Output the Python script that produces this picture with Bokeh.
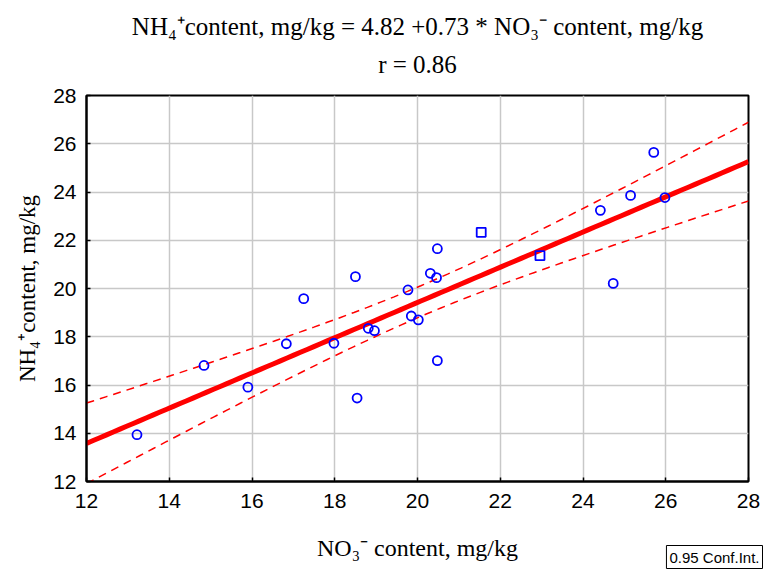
import numpy as np
from bokeh.plotting import figure
from bokeh.models import Title, FixedTicker, ColumnDataSource
from bokeh.embed import file_html
from bokeh.resources import INLINE

# data
no3 = [13.22, 14.84, 15.90, 16.83, 17.25, 17.98, 18.50, 18.54, 18.81, 18.96,
       19.77, 19.85, 20.02, 20.31, 20.46, 20.48, 20.48, 21.54, 22.96, 24.42,
       24.73, 25.15, 25.71, 25.98]
nh4 = [13.94, 16.81, 15.91, 17.71, 19.58, 17.73, 20.49, 15.46, 18.35, 18.25,
       19.94, 18.86, 18.70, 20.63, 20.45, 21.65, 17.01, 22.33, 21.36, 23.24,
       20.21, 23.86, 25.64, 23.77]
markers = ["circle"] * 17 + ["square", "square"] + ["circle"] * 5
intercept = 4.82
slope = 0.73
x_ticks = [12, 14, 16, 18, 20, 22, 24, 26, 28]
y_ticks = [12, 14, 16, 18, 20, 22, 24, 26, 28]

x = np.array(no3)
y = np.array(nh4)
n = len(x)
resid = y - (intercept + slope * x)
s = np.sqrt(np.sum(resid ** 2) / (n - 2))
xbar = x.mean()
sxx = np.sum((x - xbar) ** 2)
t = 2.074
xs = np.linspace(12, 28, 100)
ys = intercept + slope * xs
hw = t * s * np.sqrt(1.0 / n + (xs - xbar) ** 2 / sxx)

p = figure(width=768, height=570, x_range=(12, 28), y_range=(12, 28),
           output_backend="svg", toolbar_location=None,
           min_border_left=86, min_border_right=20, min_border_top=95, min_border_bottom=89)
p.background_fill_color = "white"
p.border_fill_color = "white"
p.outline_line_color = "black"
p.outline_line_width = 2

for ax in (p.xaxis, p.yaxis):
    ax.axis_line_color = "black"
    ax.axis_line_width = 2
    ax.major_tick_in = 4
    ax.major_tick_out = 0
    ax.minor_tick_line_color = None
    ax.major_tick_line_color = "black"
    ax.major_tick_line_width = 1.5
    ax.major_label_text_font = "Liberation Sans"
    ax.major_label_text_font_size = "21px"
    ax.major_label_text_color = "black"
    ax.axis_label_text_font = "Liberation Serif"
    ax.axis_label_text_font_style = "normal"
    ax.axis_label_text_color = "black"

p.xaxis.ticker = FixedTicker(ticks=x_ticks)
p.yaxis.ticker = FixedTicker(ticks=y_ticks)
p.xaxis.axis_label = "NO\u2083\u207b content, mg/kg"
p.yaxis.axis_label = "NH\u2084\u207acontent, mg/kg"
p.xaxis.axis_label_text_font_size = "24px"
p.yaxis.axis_label_text_font_size = "23px"
p.xaxis.axis_label_standoff = 24
p.yaxis.axis_label_standoff = 10
p.xaxis.major_label_standoff = 12
p.yaxis.major_label_standoff = 10

p.xgrid.grid_line_color = "#c8c8c8"
p.ygrid.grid_line_color = "#c8c8c8"
p.xgrid.grid_line_width = 1.5
p.ygrid.grid_line_width = 1.5

p.line(xs, ys + hw, line_color="red", line_width=1.5, line_dash="8 6")
p.line(xs, ys - hw, line_color="red", line_width=1.5, line_dash="8 6")
p.line(xs, ys, line_color="red", line_width=5)

src = ColumnDataSource(dict(x=no3, y=nh4, m=markers))
p.scatter("x", "y", source=src, marker="m", size=9, fill_color=None,
          line_color="blue", line_width=1.8)

p.add_layout(Title(text="r = 0.86", align="center", standoff=35,
                   text_font="Liberation Serif", text_font_size="25px",
                   text_font_style="normal", text_color="black"), "above")
p.add_layout(Title(text="NH\u2084\u207acontent, mg/kg = 4.82 +0.73 * NO\u2083\u207b content, mg/kg",
                   align="center", standoff=-16,
                   text_font="Liberation Serif", text_font_size="25px",
                   text_font_style="normal", text_color="black"), "above")

p.add_layout(Title(text="0.95 Conf.Int.", align="right", vertical_align="top",
                   standoff=-36, offset=-14,
                   text_font="Liberation Sans", text_font_size="15px",
                   text_font_style="normal", text_color="black",
                   border_line_color="black", border_line_width=1,
                   background_fill_color="white", padding=3), "below")

open("out.html", "w").write(file_html(p, INLINE))
